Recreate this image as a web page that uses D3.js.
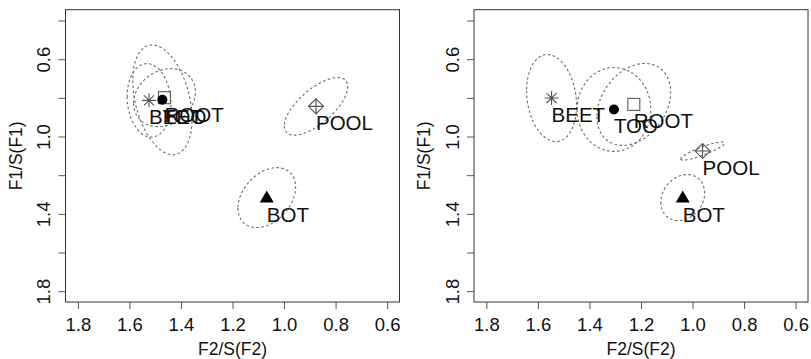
<!DOCTYPE html>
<html>
<head>
<meta charset="utf-8">
<script src="https://cdn.jsdelivr.net/npm/d3@7/dist/d3.min.js"></script>
<style>
  html, body { margin: 0; padding: 0; background: #fff; }
  svg { display: block; font-family: "Liberation Sans", Arial, Helvetica, sans-serif; }
</style>
</head>
<body>
<svg id="chart" width="811" height="359"></svg>
<script>
// ---- data ----
const groups = ["BEET", "ROOT", "TOO", "POOL", "BOT"];
const shapes = ["asterisk", "square", "circle", "diamondplus", "triangle"];

const xTicks = [1.8, 1.6, 1.4, 1.2, 1.0, 0.8, 0.6];
const yTicks = [0.4, 0.6, 0.8, 1.0, 1.2, 1.4, 1.6, 1.8];
const yTickLabels = ["", "0.6", "", "1.0", "", "1.4", "", "1.8"];
const xTickLabels = ["1.8", "1.6", "1.4", "1.2", "1.0", "0.8", "0.6"];

// left panel: means and spread (sd of F2, sd of F1, correlation)
const leftF2 = [1.524, 1.464, 1.472, 0.876, 1.067];
const leftF1 = [0.813, 0.799, 0.810, 0.844, 1.316];
const leftSdF2 = [0.085, 0.120, 0.115, 0.123, 0.112];
const leftSdF1 = [0.190, 0.150, 0.284, 0.149, 0.155];
const leftRho = [-0.10, 0.20, -0.35, 0.68, 0.35];

// right panel
const rightF2 = [1.547, 1.228, 1.305, 0.961, 1.038];
const rightF1 = [0.801, 0.834, 0.860, 1.075, 1.316];
const rightSdF2 = [0.097, 0.143, 0.143, 0.085, 0.085];
const rightSdF1 = [0.225, 0.212, 0.217, 0.047, 0.119];
const rightRho = [-0.17, 0.30, 0.00, 0.88, 0.20];

const xLabel = "F2/S(F2)";
const yLabel = "F1/S(F1)";

// ---- drawing ----
const svg = d3.select("#chart");
const boxTop = 9.7, boxBottom = 302;

function ext(a, b) { const r = Math.abs(b - a) * 0.04; return a > b ? [a + r, b - r] : [a - r, b + r]; }

function panel(left, F2, F1, sdX, sdY, rho) {
  const width = 334;
  const x = d3.scaleLinear().domain(ext(1.8, 0.6)).range([left, left + width]);
  const y = d3.scaleLinear().domain(ext(0.4, 1.8)).range([boxTop, boxBottom]);
  const g = svg.append("g");

  // ellipses
  const line = d3.line().curve(d3.curveLinearClosed);
  groups.forEach((name, i) => {
    const pts = d3.range(0, 120).map(k => {
      const t = k / 120 * 2 * Math.PI;
      const vx = F2[i] + sdX[i] * Math.cos(t);
      const vy = F1[i] + sdY[i] * (rho[i] * Math.cos(t) + Math.sqrt(1 - rho[i] * rho[i]) * Math.sin(t));
      return [x(vx), y(vy)];
    });
    g.append("path").attr("d", line(pts))
      .attr("fill", "none").attr("stroke", "#6a6a6a")
      .attr("stroke-width", 1.1).attr("stroke-dasharray", "2.6,2.4");
  });

  // markers
  groups.forEach((name, i) => {
    const cx = x(F2[i]), cy = y(F1[i]);
    const s = shapes[i];
    if (s === "asterisk") {
      const r = 7, d = r * 0.707;
      g.append("path").attr("d",
        `M${cx - r},${cy}L${cx + r},${cy}M${cx},${cy - r}L${cx},${cy + r}` +
        `M${cx - d},${cy - d}L${cx + d},${cy + d}M${cx - d},${cy + d}L${cx + d},${cy - d}`)
        .attr("stroke", "#555").attr("stroke-width", 1.1).attr("fill", "none");
    } else if (s === "square") {
      g.append("rect").attr("x", cx - 6).attr("y", cy - 6).attr("width", 12).attr("height", 12)
        .attr("fill", "none").attr("stroke", "#666").attr("stroke-width", 1.2);
    } else if (s === "circle") {
      g.append("circle").attr("cx", cx).attr("cy", cy).attr("r", 5).attr("fill", "#000");
    } else if (s === "diamondplus") {
      const r = 7.5;
      g.append("path").attr("d",
        `M${cx},${cy - r}L${cx + r},${cy}L${cx},${cy + r}L${cx - r},${cy}Z` +
        `M${cx - r},${cy}L${cx + r},${cy}M${cx},${cy - r}L${cx},${cy + r}`)
        .attr("stroke", "#555").attr("stroke-width", 1.1).attr("fill", "none");
    } else if (s === "triangle") {
      g.append("path").attr("d", `M${cx},${cy - 7}L${cx + 7},${cy + 5}L${cx - 7},${cy + 5}Z`)
        .attr("fill", "#000");
    }
  });

  // labels
  groups.forEach((name, i) => {
    g.append("text").attr("x", x(F2[i])).attr("y", y(F1[i]) + 24)
      .attr("font-size", 20.5).attr("fill", "#111").text(name);
  });

  // box
  g.append("rect").attr("x", left).attr("y", boxTop).attr("width", width).attr("height", boxBottom - boxTop)
    .attr("fill", "none").attr("stroke", "#333").attr("stroke-width", 1);

  // x axis
  const xa = g.append("g").attr("transform", `translate(0,${boxBottom})`)
    .call(d3.axisBottom(x).tickValues(xTicks).tickSize(7).tickFormat((d, i) => xTickLabels[i]));
  xa.select(".domain").remove();
  xa.selectAll(".tick line").attr("stroke", "#555");
  xa.selectAll(".tick text").attr("font-size", 18.5).attr("fill", "#111")
    .attr("font-family", "Liberation Sans, Arial, sans-serif").attr("dy", "1.05em");

  // y axis
  const ya = g.append("g").attr("transform", `translate(${left},0)`)
    .call(d3.axisLeft(y).tickValues(yTicks).tickSize(7).tickFormat((d, i) => yTickLabels[i]));
  ya.select(".domain").remove();
  ya.selectAll(".tick line").attr("stroke", "#555");
  ya.selectAll(".tick text").attr("font-size", 18.5).attr("fill", "#111")
    .attr("font-family", "Liberation Sans, Arial, sans-serif")
    .attr("x", null).attr("dy", null)
    .attr("text-anchor", "middle")
    .attr("transform", "translate(-15.5,0) rotate(-90)");

  // titles
  g.append("text").attr("x", left + width / 2).attr("y", 355)
    .attr("text-anchor", "middle").attr("font-size", 17.5).attr("fill", "#111").text(xLabel);
  g.append("text").attr("transform", `translate(${left - 44},${(boxTop + boxBottom) / 2}) rotate(-90)`)
    .attr("text-anchor", "middle").attr("font-size", 17.5).attr("fill", "#111").text(yLabel);
}

panel(65.5, leftF2, leftF1, leftSdF2, leftSdF1, leftRho);
panel(474, rightF2, rightF1, rightSdF2, rightSdF1, rightRho);
</script>
</body>
</html>
